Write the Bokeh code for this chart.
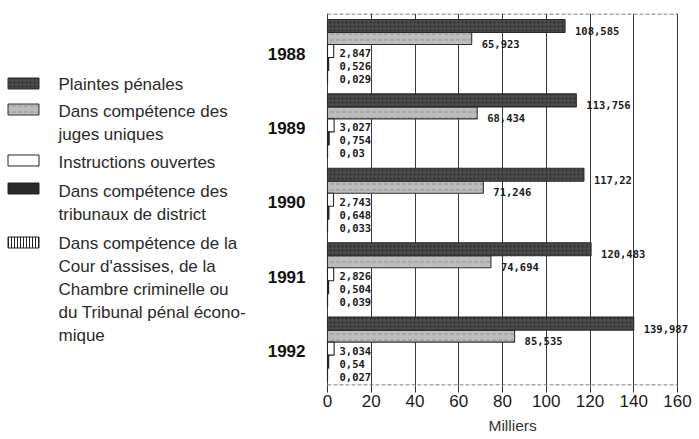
from bokeh.plotting import figure
from bokeh.models import Range1d, FixedTicker, Title, ColumnDataSource
from bokeh.core.properties import value
from bokeh.embed import file_html
from bokeh.resources import INLINE

# ---------------- data ----------------
years = ["1988", "1989", "1990", "1991", "1992"]
plaintes = [108.585, 113.756, 117.22, 120.483, 139.987]
juges = [65.923, 68.434, 71.246, 74.694, 85.535]
instructions = [2.847, 3.027, 2.743, 2.826, 3.034]
tribunaux = [0.526, 0.754, 0.648, 0.504, 0.54]
cour = [0.029, 0.03, 0.033, 0.039, 0.027]
x_ticks = [0, 20, 40, 60, 80, 100, 120, 140, 160]
legend_labels = [
    ["Plaintes pénales"],
    ["Dans compétence des", "juges uniques"],
    ["Instructions ouvertes"],
    ["Dans compétence des", "tribunaux de district"],
    ["Dans compétence de la", "Cour d'assises, de la", "Chambre criminelle ou",
     "du Tribunal pénal écono-", "mique"],
]
axis_title = "Milliers"

# ---------------- layout constants (screen pixel based) ----------------
W, H = 699, 439
X0_PIX = 327.0             # screen x of value 0
PX_PER_UNIT = 350.0 / 160  # pixels per thousand
FRAME_TOP, FRAME_BOTTOM = 13.0, 385.0
GROUP_TOP0, GROUP_STEP = 19.0, 74.4
SLOT_H = [13, 12, 13, 13, 13]
SLOT_OFF = [0, 13, 25, 38, 51]

x_start = -X0_PIX / PX_PER_UNIT
x_end = (W - X0_PIX) / PX_PER_UNIT

p = figure(width=W, height=H, output_backend="svg", toolbar_location=None,
           x_range=Range1d(x_start, x_end), y_range=Range1d(FRAME_BOTTOM, FRAME_TOP),
           y_axis_location=None, min_border_left=0, min_border_right=0,
           min_border_top=int(FRAME_TOP), min_border_bottom=int(H - FRAME_BOTTOM))
p.extra_x_ranges = {"px": Range1d(0, W)}
p.outline_line_color = None
p.background_fill_color = "white"
p.ygrid.visible = False
p.xgrid.ticker = FixedTicker(ticks=x_ticks)
p.xgrid.grid_line_color = "#3a3a3a"
p.xgrid.grid_line_width = 1

ax = p.xaxis[0]
ax.ticker = FixedTicker(ticks=x_ticks)
ax.axis_line_color = None
ax.major_tick_line_color = "#333333"
ax.major_tick_out = 7
ax.major_tick_in = 0
ax.minor_tick_line_color = None
ax.major_label_text_font = "Liberation Sans"
ax.major_label_text_font_size = "17px"
ax.major_label_text_color = "#1a1a1a"
ax.major_label_standoff = 2

p.add_layout(Title(text=axis_title, align="left", offset=488, standoff=10,
                   text_font="Liberation Sans", text_font_size="15.5px",
                   text_font_style="normal", text_color="#333333"), "below")

# dashed frame lines (top and bottom) over the tick span
p.segment(x0=[x_ticks[0], x_ticks[0]], x1=[x_ticks[-1], x_ticks[-1]],
          y0=[FRAME_TOP + 0.5, FRAME_BOTTOM - 0.5], y1=[FRAME_TOP + 0.5, FRAME_BOTTOM - 0.5],
          line_color="#555555", line_width=1, line_dash="4 2")

series = [plaintes, juges, instructions, tribunaux, cour]
styles = [
    dict(fill_color="#4a4a4a", line_color="#2a2a2a", hatch_pattern="dot", hatch_color="#1a1a1a",
         hatch_scale=4, hatch_alpha=0.7),
    dict(fill_color="#bcbcbc", line_color="#333333", hatch_pattern="horizontal_dash",
         hatch_color="#8a8a8a", hatch_scale=6, hatch_alpha=0.8),
    dict(fill_color="white", line_color="#222222"),
    dict(fill_color="#2a2a2a", line_color="#222222"),
    dict(fill_color="white", line_color="#222222", hatch_pattern="vertical_line",
         hatch_color="#222222", hatch_scale=3),
]

def label_text(v):
    return f"{v:g}".replace(".", ",")

group_tops = [GROUP_TOP0 + GROUP_STEP * g for g in range(len(years))]

# draw juges first, then plaintes on top, then small ones
order = [1, 0, 2, 3, 4]
for k in order:
    vals = series[k]
    ys = [t + SLOT_OFF[k] + SLOT_H[k] / 2 for t in group_tops]
    src = ColumnDataSource(dict(y=ys, right=vals))
    p.hbar(y="y", left=0, right="right", height=SLOT_H[k], source=src, line_width=1.1, **styles[k])

# value labels
for k, vals in enumerate(series):
    ys = [t + SLOT_OFF[k] + SLOT_H[k] / 2 for t in group_tops]
    texts = [label_text(v) for v in vals]
    if k < 2:
        src = ColumnDataSource(dict(x=vals, y=[y + 5 for y in ys], t=texts))
        off = 10
    else:
        src = ColumnDataSource(dict(x=[0] * len(vals), y=[y + 2 for y in ys], t=texts))
        off = 12
    p.text(x="x", y="y", text="t", source=src, x_offset=off, text_baseline="middle",
           text_align="left", text_font=value("DejaVu Sans Mono"), text_font_style="bold",
           text_font_size="10.5px", text_color="#1a1a1a")

# year labels
year_src = ColumnDataSource(dict(x=[305] * len(years), y=[t + 34 for t in group_tops], t=years))
p.text(x="x", y="y", text="t", source=year_src, x_range_name="px", text_align="right",
       text_baseline="middle", text_font=value("Liberation Sans"), text_font_style="bold",
       text_font_size="17px", text_color="#111111")

# legend
SW_X, SW_W, SW_H = 23, 31, 11
swatch_y = [83, 109, 160, 188, 242]
line_y0 = [84, 111, 162, 191, 243]
LINE_STEP = 23
for k in range(len(series)):
    p.rect(x=[SW_X], y=[swatch_y[k]], width=SW_W, height=SW_H, x_range_name="px",
           line_width=1, **styles[k])
    lines = legend_labels[k]
    src = ColumnDataSource(dict(x=[58] * len(lines),
                                y=[line_y0[k] + LINE_STEP * i for i in range(len(lines))],
                                t=lines))
    p.text(x="x", y="y", text="t", source=src, x_range_name="px", text_align="left",
           text_baseline="middle", text_font=value("Liberation Sans"), text_font_size="17px",
           text_color="#2a2a2a")

open("out.html", "w").write(file_html(p, INLINE))
